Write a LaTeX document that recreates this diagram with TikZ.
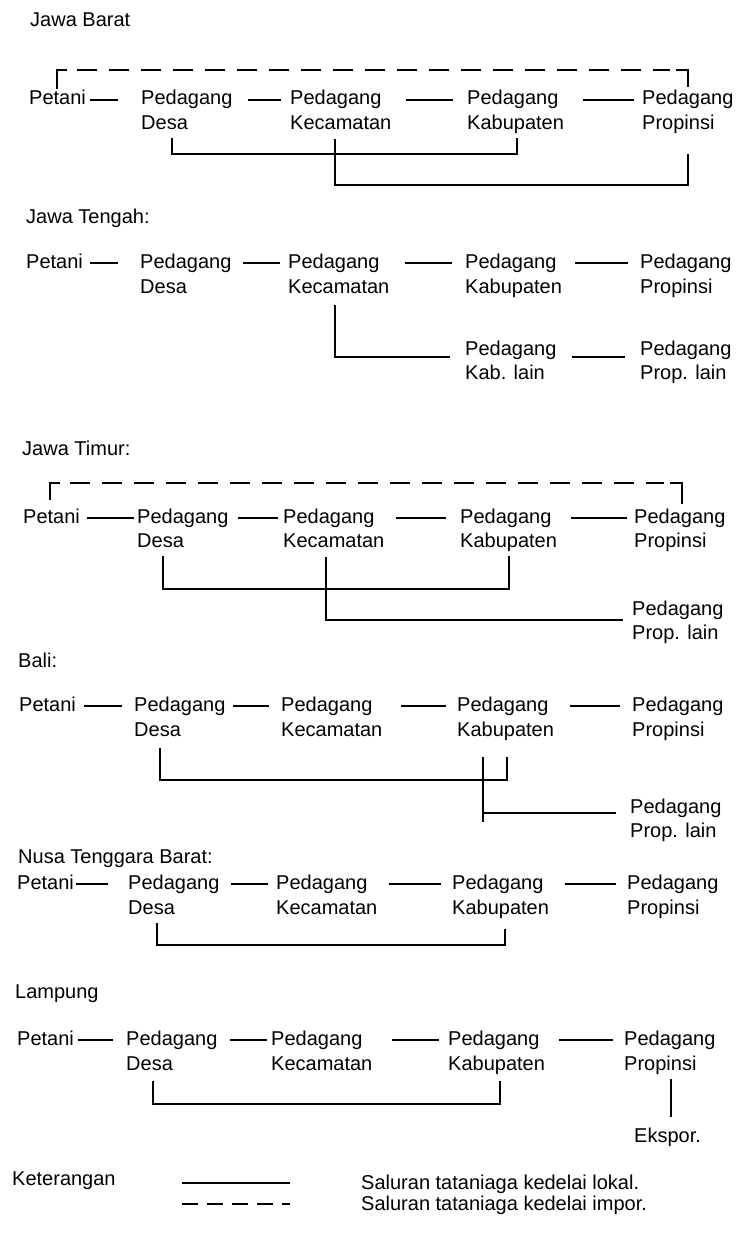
\documentclass[tikz,border=0pt]{standalone}
\usepackage{fontspec}
\setmainfont{Liberation Sans}
\usetikzlibrary{calc}
\tikzset{
  lbl/.style={anchor=west, inner sep=0pt, font=\fontsize{20}{24}\selectfont, text height=14pt, text depth=4pt},
  ln/.style={line width=1.3pt},
  dsh/.style={line width=1.3pt, dash pattern=on 20pt off 12pt},
}
\begin{document}
\begin{tikzpicture}[x=1pt,y=-1pt]
\useasboundingbox[fill=white] (0,0) rectangle (739,1236);
% ---------- Jawa Barat
\node[lbl] (jbT) at (30,22) {Jawa Barat};
\node[lbl] (jb1) at (29,100) {Petani};
\node[lbl] (jb2) at (141,100) {Pedagang};
\node[lbl] (jb2b) at (141,124) {Desa};
\node[lbl] (jb3) at (290,100) {Pedagang};
\node[lbl] (jb3b) at (290,124) {Kecamatan};
\node[lbl] (jb4) at (467,100) {Pedagang};
\node[lbl] (jb4b) at (467,124) {Kabupaten};
\node[lbl] (jb5) at (642,100) {Pedagang};
\node[lbl] (jb5b) at (642,124) {Propinsi};
\draw[ln] ([xshift=61]jb1.west) -- ([xshift=-23]jb2.west);
\draw[ln] ([xshift=107]jb2.west) -- ([xshift=-9]jb3.west);
\draw[ln] ([xshift=116]jb3.west) -- ([xshift=-14]jb4.west);
\draw[ln] ([xshift=116]jb4.west) -- ([xshift=-8]jb5.west);
\draw[ln] ($(jb1.west)+(28,-11)$) |- ($(jb1.west)+(38,-30)$);
\draw[dsh] ($(jb1.west)+(48,-30)$) -- ($(jb5.west)+(28,-30)$);
\draw[ln] ($(jb5.west)+(34,-30)$) -| ($(jb5.west)+(46,-13)$);
\draw[ln] ($(jb2b.west)+(31,14)$) |- ($(jb4b.west)+(50,30)$) -- ($(jb4b.west)+(50,14)$);
\draw[ln] ($(jb3b.west)+(45,15)$) |- ($(jb5b.west)+(46,61)$) -- ($(jb5b.west)+(46,30)$);
% ---------- Jawa Tengah
\node[lbl] (jtT) at (26,218) {Jawa Tengah:};
\node[lbl] (jt1) at (26,263) {Petani};
\node[lbl] (jt2) at (140,263) {Pedagang};
\node[lbl] (jt2b) at (140,288) {Desa};
\node[lbl] (jt3) at (288,263) {Pedagang};
\node[lbl] (jt3b) at (288,288) {Kecamatan};
\node[lbl] (jt4) at (465,263) {Pedagang};
\node[lbl] (jt4b) at (465,288) {Kabupaten};
\node[lbl] (jt5) at (640,263) {Pedagang};
\node[lbl] (jt5b) at (640,288) {Propinsi};
\node[lbl] (jt6) at (465,350) {Pedagang};
\node[lbl] (jt6b) at (465,374) {Kab. lain};
\node[lbl] (jt7) at (640,350) {Pedagang};
\node[lbl] (jt7b) at (640,374) {Prop. lain};
\draw[ln] ([xshift=64]jt1.west) -- ([xshift=-22]jt2.west);
\draw[ln] ([xshift=103]jt2.west) -- ([xshift=-8]jt3.west);
\draw[ln] ([xshift=117]jt3.west) -- ([xshift=-13]jt4.west);
\draw[ln] ([xshift=110]jt4.west) -- ([xshift=-12]jt5.west);
\draw[ln] ($(jt3b.west)+(47,17)$) |- ($(jt6.west)+(-15,7)$);
\draw[ln] ($(jt6.west)+(107,7)$) -- ($(jt7.west)+(-15,7)$);
% ---------- Jawa Timur
\node[lbl] (tmT) at (22,450) {Jawa Timur:};
\node[lbl] (tm1) at (23,518) {Petani};
\node[lbl] (tm2) at (137,518) {Pedagang};
\node[lbl] (tm2b) at (137,542) {Desa};
\node[lbl] (tm3) at (283,518) {Pedagang};
\node[lbl] (tm3b) at (283,542) {Kecamatan};
\node[lbl] (tm4) at (460,518) {Pedagang};
\node[lbl] (tm4b) at (460,542) {Kabupaten};
\node[lbl] (tm5) at (634,518) {Pedagang};
\node[lbl] (tm5b) at (634,542) {Propinsi};
\node[lbl] (tm6) at (632,610) {Pedagang};
\node[lbl] (tm6b) at (632,634) {Prop. lain};
\draw[ln] ([xshift=64]tm1.west) -- ([xshift=-3]tm2.west);
\draw[ln] ([xshift=101]tm2.west) -- ([xshift=-5]tm3.west);
\draw[ln] ([xshift=113]tm3.west) -- ([xshift=-14]tm4.west);
\draw[ln] ([xshift=111]tm4.west) -- ([xshift=-7]tm5.west);
\draw[ln] ($(tm1.west)+(27,-18)$) |- ($(tm1.west)+(37,-35)$);
\draw[dsh] ($(tm1.west)+(47,-35)$) -- ($(tm5.west)+(30,-35)$);
\draw[ln] ($(tm5.west)+(36,-35)$) -| ($(tm5.west)+(48,-14)$);
\draw[ln] ($(tm2b.west)+(26,14)$) |- ($(tm4b.west)+(49,47)$) -- ($(tm4b.west)+(49,14)$);
\draw[ln] ($(tm3b.west)+(43,15)$) |- ($(tm6.west)+(-9,10)$);
% ---------- Bali
\node[lbl] (baT) at (18,662) {Bali:};
\node[lbl] (ba1) at (19,706) {Petani};
\node[lbl] (ba2) at (134,706) {Pedagang};
\node[lbl] (ba2b) at (134,731) {Desa};
\node[lbl] (ba3) at (281,706) {Pedagang};
\node[lbl] (ba3b) at (281,731) {Kecamatan};
\node[lbl] (ba4) at (457,706) {Pedagang};
\node[lbl] (ba4b) at (457,731) {Kabupaten};
\node[lbl] (ba5) at (632,706) {Pedagang};
\node[lbl] (ba5b) at (632,731) {Propinsi};
\node[lbl] (ba6) at (630,808) {Pedagang};
\node[lbl] (ba6b) at (630,832) {Prop. lain};
\draw[ln] ([xshift=65]ba1.west) -- ([xshift=-12]ba2.west);
\draw[ln] ([xshift=99]ba2.west) -- ([xshift=-12]ba3.west);
\draw[ln] ([xshift=120]ba3.west) -- ([xshift=-11]ba4.west);
\draw[ln] ([xshift=113]ba4.west) -- ([xshift=-12]ba5.west);
\draw[ln] ($(ba2b.west)+(26,17)$) |- ($(ba4b.west)+(50,49)$) -- ($(ba4b.west)+(50,26)$);
\draw[ln] ($(ba4b.west)+(26,26)$) -- ($(ba4b.west)+(26,91)$);
\draw[ln] ($(ba4b.west)+(26,82)$) -- ($(ba6.west)+(-14,5)$);
% ---------- Nusa Tenggara Barat
\node[lbl] (ntT) at (18,858) {Nusa Tenggara Barat:};
\node[lbl] (nt1) at (17,884) {Petani};
\node[lbl] (nt2) at (128,884) {Pedagang};
\node[lbl] (nt2b) at (128,909) {Desa};
\node[lbl] (nt3) at (276,884) {Pedagang};
\node[lbl] (nt3b) at (276,909) {Kecamatan};
\node[lbl] (nt4) at (452,884) {Pedagang};
\node[lbl] (nt4b) at (452,909) {Kabupaten};
\node[lbl] (nt5) at (627,884) {Pedagang};
\node[lbl] (nt5b) at (627,909) {Propinsi};
\draw[ln] ([xshift=59]nt1.west) -- ([xshift=-20]nt2.west);
\draw[ln] ([xshift=103]nt2.west) -- ([xshift=-8]nt3.west);
\draw[ln] ([xshift=113]nt3.west) -- ([xshift=-11]nt4.west);
\draw[ln] ([xshift=113]nt4.west) -- ([xshift=-11]nt5.west);
\draw[ln] ($(nt2b.west)+(29,14)$) |- ($(nt4b.west)+(53,36)$) -- ($(nt4b.west)+(53,20)$);
% ---------- Lampung
\node[lbl] (laT) at (15,993) {Lampung};
\node[lbl] (la1) at (17,1040) {Petani};
\node[lbl] (la2) at (126,1040) {Pedagang};
\node[lbl] (la2b) at (126,1065) {Desa};
\node[lbl] (la3) at (271,1040) {Pedagang};
\node[lbl] (la3b) at (271,1065) {Kecamatan};
\node[lbl] (la4) at (448,1040) {Pedagang};
\node[lbl] (la4b) at (448,1065) {Kabupaten};
\node[lbl] (la5) at (624,1040) {Pedagang};
\node[lbl] (la5b) at (624,1065) {Propinsi};
\node[lbl] (ex) at (634,1137) {Ekspor.};
\draw[ln] ([xshift=61]la1.west) -- ([xshift=-13]la2.west);
\draw[ln] ([xshift=104]la2.west) -- ([xshift=-4]la3.west);
\draw[ln] ([xshift=121]la3.west) -- ([xshift=-9]la4.west);
\draw[ln] ([xshift=111]la4.west) -- ([xshift=-11]la5.west);
\draw[ln] ($(la2b.west)+(27,16)$) |- ($(la4b.west)+(52,39)$) -- ($(la4b.west)+(52,16)$);
\draw[ln] ($(la5b.west)+(47,14)$) -- ($(ex.west)+(37,-20)$);
% ---------- Legend
\node[lbl] (kt) at (12,1180) {Keterangan};
\node[lbl] (l1) at (361,1184) {Saluran tataniaga kedelai lokal.};
\node[lbl] (l2) at (361,1205) {Saluran tataniaga kedelai impor.};
\draw[ln] ($(l1.west)+(-179,-1)$) -- ($(l1.west)+(-71,-1)$);
\draw[ln, dash pattern=on 16pt off 9pt] ($(l2.west)+(-179,-1)$) -- ($(l2.west)+(-71,-1)$);
\end{tikzpicture}
\end{document}
